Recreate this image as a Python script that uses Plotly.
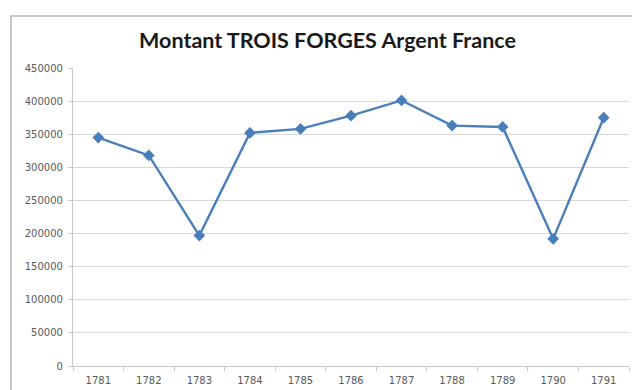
import plotly.graph_objects as go

years = ["1781", "1782", "1783", "1784", "1785", "1786", "1787", "1788", "1789", "1790", "1791"]
montants = [345000, 318000, 197000, 352000, 358000, 378000, 401000, 363000, 361000, 192000, 375000]
y_ticks = [0, 50000, 100000, 150000, 200000, 250000, 300000, 350000, 400000, 450000]

W, H = 632, 390
L, R, T, B = 73, 3, 68, 24
pw, ph = W - L - R, H - T - B

def px_x(x):
    return (x - L) / pw

def px_y(y):
    return (H - B - y) / ph

fig = go.Figure(
    go.Scatter(
        x=years,
        y=montants,
        mode="lines+markers",
        line=dict(color="#4a7ebb", width=2.4),
        marker=dict(symbol="diamond", size=9, color="#4a7ebb"),
        showlegend=False,
    )
)

fig.update_layout(
    width=W,
    height=H,
    margin=dict(l=L, r=R, t=T, b=B),
    paper_bgcolor="white",
    plot_bgcolor="white",
    font=dict(family="'DejaVu Sans', sans-serif", color="#595959", size=10),
    title=dict(
        text="<b>Montant TROIS FORGES Argent France</b>",
        x=px_x(327.5), xref="paper", xanchor="center",
        y=1 - 40 / H, yanchor="middle",
        font=dict(family="Lato, 'Open Sans', sans-serif", size=21.5, color="#1a1a1a"),
    ),
    shapes=[
        dict(
            type="rect", xref="paper", yref="paper",
            x0=px_x(11), x1=px_x(W + 20), y0=px_y(H + 20), y1=px_y(16),
            line=dict(color="#b8b8b8", width=1.5),
            fillcolor="rgba(0,0,0,0)", layer="below",
        )
    ],
)

fig.update_xaxes(
    type="category",
    range=[-0.5, len(years) - 0.5],
    showgrid=False,
    showline=True, linecolor="#c8c8c8", linewidth=1.2,
    ticks="outside", tickson="boundaries", ticklen=4, tickcolor="#c8c8c8",
    ticklabelstandoff=5,
    tickfont=dict(family="'DejaVu Sans', sans-serif", size=10, color="#595959"),
)
fig.update_yaxes(
    range=[0, 450000],
    tickvals=y_ticks,
    ticktext=[str(v) for v in y_ticks],
    showgrid=True, gridcolor="#d9d9d9", gridwidth=1.3,
    showline=True, linecolor="#c8c8c8", linewidth=1.2,
    ticks="outside", ticklen=4, tickcolor="#c8c8c8",
    ticklabelstandoff=3,
    tickfont=dict(family="'DejaVu Sans', sans-serif", size=10, color="#595959"),
    zeroline=False,
)

fig.write_html("out.html")
